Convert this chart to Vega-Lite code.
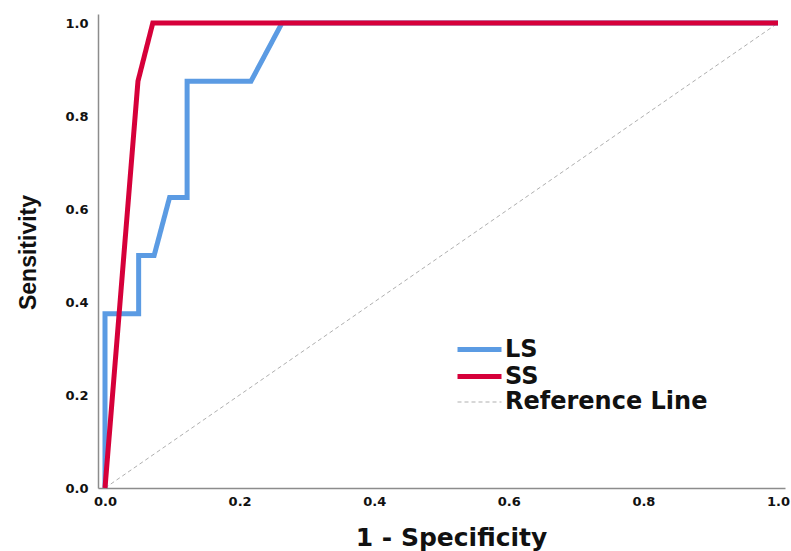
{
  "$schema": "https://vega.github.io/schema/vega-lite/v6.json",
  "width": 687,
  "height": 474,
  "autosize": {"type": "none"},
  "padding": {"left": 98, "top": 14, "right": 6, "bottom": 63},
  "background": "white",
  "config": {
    "view": {"stroke": null},
    "font": "DejaVu Sans",
    "legend": {
      "title": null,
      "orient": "none",
      "legendX": 368,
      "legendY": 322,
      "padding": 0,
      "symbolType": "M-2,0H2",
      "symbolSize": 484,
      "labelFont": "DejaVu Sans",
      "labelFontWeight": "bold",
      "labelFontSize": 24,
      "labelColor": "#111",
      "labelOffset": 12,
      "labelLimit": 400,
      "rowPadding": 1
    }
  },
  "data": {
    "values": [
      {"series": "Reference Line", "i": 0, "x": 0, "y": 0},
      {"series": "Reference Line", "i": 1, "x": 1, "y": 1},
      {"series": "LS", "i": 0, "x": 0, "y": 0},
      {"series": "LS", "i": 1, "x": 0, "y": 0.375},
      {"series": "LS", "i": 2, "x": 0.05, "y": 0.375},
      {"series": "LS", "i": 3, "x": 0.05, "y": 0.5},
      {"series": "LS", "i": 4, "x": 0.073, "y": 0.5},
      {"series": "LS", "i": 5, "x": 0.096, "y": 0.625},
      {"series": "LS", "i": 6, "x": 0.122, "y": 0.625},
      {"series": "LS", "i": 7, "x": 0.122, "y": 0.875},
      {"series": "LS", "i": 8, "x": 0.217, "y": 0.875},
      {"series": "LS", "i": 9, "x": 0.263, "y": 1},
      {"series": "LS", "i": 10, "x": 1, "y": 1},
      {"series": "SS", "i": 0, "x": 0, "y": 0},
      {"series": "SS", "i": 1, "x": 0.049, "y": 0.875},
      {"series": "SS", "i": 2, "x": 0.071, "y": 1},
      {"series": "SS", "i": 3, "x": 1, "y": 1}
    ]
  },
  "mark": {"type": "line", "strokeCap": "butt", "strokeJoin": "miter"},
  "encoding": {
    "x": {
      "field": "x",
      "type": "quantitative",
      "scale": {"domain": [-0.0104, 1.0104], "nice": false, "zero": false},
      "axis": {
        "values": [0, 0.2, 0.4, 0.6, 0.8, 1.0],
        "format": ".1f",
        "grid": false,
        "ticks": false,
        "domainColor": "#8c8c8c",
        "domainWidth": 1.5,
        "labelFont": "DejaVu Sans",
        "labelFontWeight": "bold",
        "labelFontSize": 13,
        "labelColor": "#111",
        "labelPadding": 7,
        "labelFlush": false,
        "title": "1 - Specificity",
        "titleFont": "DejaVu Sans",
        "titleFontWeight": "bold",
        "titleFontSize": 25,
        "titleColor": "#111",
        "titleAnchor": null,
        "titleAlign": "center",
        "titleBaseline": "alphabetic",
        "titleX": 353,
        "titleY": 57
      }
    },
    "y": {
      "field": "y",
      "type": "quantitative",
      "scale": {"domain": [0, 1.0194], "nice": false, "zero": false},
      "axis": {
        "values": [0, 0.2, 0.4, 0.6, 0.8, 1.0],
        "format": ".1f",
        "grid": false,
        "ticks": false,
        "domainColor": "#8c8c8c",
        "domainWidth": 1.5,
        "labelFont": "DejaVu Sans",
        "labelFontWeight": "bold",
        "labelFontSize": 13,
        "labelColor": "#111",
        "labelPadding": 10,
        "labelFlush": false,
        "title": "Sensitivity",
        "titleFont": "Liberation Sans",
        "titleFontWeight": "bold",
        "titleFontSize": 23,
        "titleColor": "#111",
        "titleAngle": -90,
        "titleAlign": "center",
        "titleBaseline": "middle",
        "titleX": -70,
        "titleY": 238
      }
    },
    "order": {"field": "i", "type": "quantitative"},
    "color": {
      "field": "series",
      "type": "nominal",
      "sort": null,
      "scale": {"domain": ["LS", "SS", "Reference Line"], "range": ["#5B9BE3", "#D6003A", "#AFAFAF"]}
    },
    "strokeDash": {
      "field": "series",
      "type": "nominal",
      "sort": null,
      "scale": {"domain": ["LS", "SS", "Reference Line"], "range": [[1, 0], [1, 0], [4, 3]]}
    },
    "strokeWidth": {
      "field": "series",
      "type": "nominal",
      "sort": null,
      "scale": {"type": "ordinal", "domain": ["LS", "SS", "Reference Line"], "range": [5, 5, 1]}
    }
  }
}
